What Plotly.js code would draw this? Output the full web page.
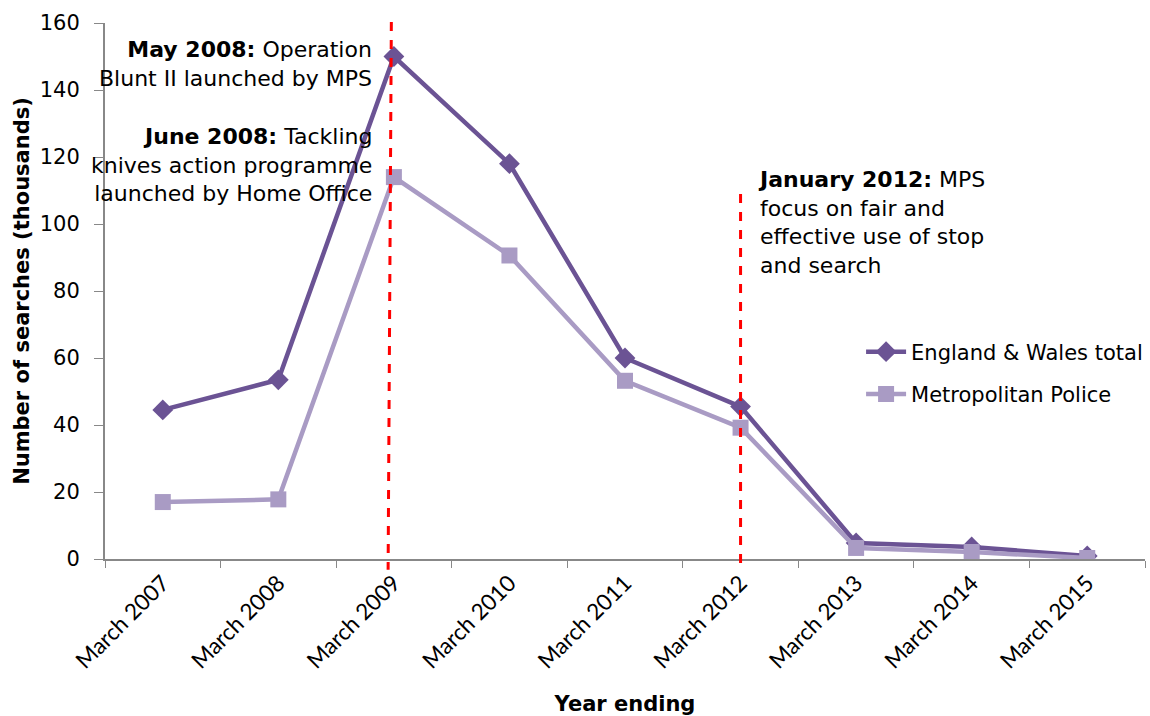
<!DOCTYPE html>
<html><head><meta charset="utf-8">
<script src="https://cdn.plot.ly/plotly-3.0.1.min.js"></script>
<style>body{margin:0;background:#fff}#chart{width:1150px;height:716px}</style>
</head><body><div id="chart"></div>
<script>
const categories = ["March 2007","March 2008","March 2009","March 2010","March 2011","March 2012","March 2013","March 2014","March 2015"];
const englandWales = [44.5, 53.5, 150, 118, 60, 45.5, 4.8, 3.6, 0.9];
const metPolice = [17, 17.8, 114, 90.6, 53.2, 39.2, 3.3, 2.1, 0.3];
const seriesNames = ["England & Wales total", "Metropolitan Police"];
const yTicks = [0,20,40,60,80,100,120,140,160];

const F = "'DejaVu Sans', sans-serif";
const traces = [
  {x: categories, y: englandWales, name: seriesNames[0], legendgroup: 'a', type: 'scatter', mode: 'lines+markers',
   line: {color: '#6B5394', width: 4.5}, marker: {symbol: 'diamond', size: 16, color: '#6B5394'}},
  {x: categories, y: metPolice, name: seriesNames[1], legendgroup: 'b', type: 'scatter', mode: 'lines+markers',
   line: {color: '#A99BC4', width: 4.5}, marker: {symbol: 'square', size: 16, color: '#A99BC4'}}
];
const layout = {
  width: 1150, height: 716,
  margin: {l: 105, r: 2, t: 23, b: 157},
  paper_bgcolor: '#fff', plot_bgcolor: '#fff',
  font: {family: F, size: 21, color: '#000'},
  showlegend: true,
  legend: {x: 0.727, y: 0.347, xanchor: 'left', yanchor: 'middle', font: {family: F, size: 21, color: '#000'},
    traceorder: 'grouped', tracegroupgap: 12, itemwidth: 40, bgcolor: 'rgba(0,0,0,0)'},
  xaxis: {type: 'category', range: [-0.5, 8.5], tickson: 'boundaries', ticks: 'outside', ticklen: 7,
    tickcolor: '#888', showline: true, linecolor: '#888', linewidth: 2, showgrid: false, zeroline: false,
    tickangle: -45, tickfont: {family: "Lato, Carlito, sans-serif", size: 22.5, color: '#000'},
    title: {text: '<b>Year ending</b>', font: {family: F, size: 21}, standoff: 26}},
  yaxis: {range: [0, 160], tickvals: yTicks, ticks: 'outside', ticklen: 9, tickcolor: '#888',
    showline: true, linecolor: '#888', linewidth: 2, showgrid: false, zeroline: false,
    ticklabelstandoff: 10, tickfont: {family: F, size: 21, color: '#000'},
    title: {text: '<b>Number of searches (thousands)</b>', font: {family: F, size: 21}, standoff: 4}},
  shapes: [
    {type: 'line', xref: 'x', yref: 'paper', x0: 1.978, x1: 1.95, y0: 1.002, y1: -0.02,
     line: {color: '#FF0000', width: 3, dash: 'dash'}},
    {type: 'line', xref: 'x', yref: 'paper', x0: 5.0, x1: 5.0, y0: 0.681, y1: -0.02,
     line: {color: '#FF0000', width: 3, dash: 'dash'}}
  ],
  annotations: [
    {xref: 'paper', yref: 'paper', x: 0.2589, y: 0.9244, xanchor: 'right', yanchor: 'middle', align: 'right',
     showarrow: false, font: {family: F, size: 22, color: '#000'},
     text: '<b>May 2008:</b> Operation<br>Blunt II launched by MPS'},
    {xref: 'paper', yref: 'paper', x: 0.2589, y: 0.735, xanchor: 'right', yanchor: 'middle', align: 'right',
     showarrow: false, font: {family: F, size: 22, color: '#000'},
     text: '<b>June 2008:</b> Tackling<br>knives action programme<br>launched by Home Office'},
    {xref: 'paper', yref: 'paper', x: 0.626, y: 0.627, xanchor: 'left', yanchor: 'middle', align: 'left',
     showarrow: false, font: {family: F, size: 22, color: '#000'},
     text: '<b>January 2012:</b> MPS<br>focus on fair and<br>effective use of stop<br>and search'}
  ]
};
Plotly.newPlot('chart', traces, layout, {displayModeBar: false, responsive: false});
</script></body></html>
